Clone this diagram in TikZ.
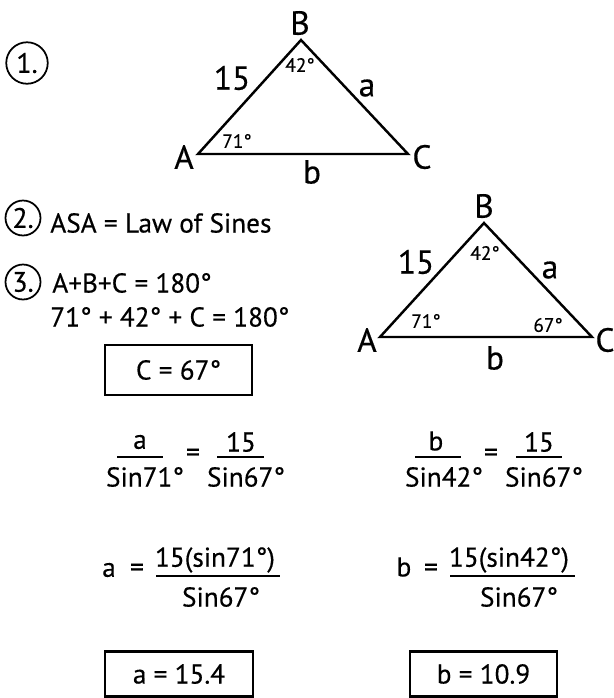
\documentclass[tikz,border=0pt]{standalone}
\usepackage{fontspec}
\setmainfont{PT Sans}[FakeBold=0.4]
\tikzset{
  side/.style={line width=1.4pt, line join=miter},
  vlabel/.style={font=\fontsize{19}{21}\selectfont, inner sep=0pt},
  anglelbl/.style={font=\fontsize{11}{13}\selectfont, inner sep=0pt},
  txt/.style={font=\fontsize{15.5}{17}\selectfont, inner sep=0pt},
  stepmark/.style={circle, draw, line width=1pt, inner sep=0pt, font=\fontsize{16}{18}\selectfont},
  answer/.style={draw, line width=1.4pt, inner sep=0pt, font=\fontsize{15.5}{17}\selectfont},
  bar/.style={line width=1.3pt}
}
\begin{document}
\begin{tikzpicture}[x=0.02cm, y=-0.02cm]
    \useasboundingbox (0,0) rectangle (614,698);

    % Step 1: the given triangle
    \node[stepmark, minimum size=0.83cm] (one) at (27,63) {1.};
    \coordinate (A1) at (198,154);
    \coordinate (B1) at (301,40);
    \coordinate (C1) at (408,154);
    \draw[side] (A1) -- (B1) -- (C1) -- cycle;
    \node[vlabel] (lA1) at (184,157) {A};
    \node[vlabel] (lB1) at (300,23) {B};
    \node[vlabel] (lC1) at (422,157) {C};
    \node[vlabel] (lc1) at (232,78) {15};
    \node[vlabel] (la1) at (367,88) {a};
    \node[vlabel] (lb1) at (312,172) {b};
    \node[anglelbl] (angB1) at (300,65) {42°};
    \node[anglelbl] (angA1) at (237,141) {71°};

    % Step 2 and 3
    \node[stepmark, minimum size=0.7cm] (two) at (23,218) {2.};
    \node[txt, anchor=west] (asa) at (50,223) {ASA = Law of Sines};
    \node[stepmark, minimum size=0.7cm] (three) at (23,282) {3.};
    \node[txt, anchor=west] (sum1) at (52,283) {A+B+C = 180°};
    \node[txt, anchor=west] (sum2) at (50,317) {71° + 42° + C = 180°};
    \node[answer, minimum width=2.94cm, minimum height=1cm] (boxC) at (178.5,370) {C = 67°};

    % Triangle with all angles
    \coordinate (A2) at (380,337);
    \coordinate (B2) at (484,223);
    \coordinate (C2) at (592,337);
    \draw[side] (A2) -- (B2) -- (C2) -- cycle;
    \node[vlabel] (lA2) at (367,340) {A};
    \node[vlabel] (lB2) at (484,206) {B};
    \node[vlabel] (lC2) at (605,340) {C};
    \node[vlabel] (lc2) at (416,262) {15};
    \node[vlabel] (la2) at (550,270) {a};
    \node[vlabel] (lb2) at (495,358) {b};
    \node[anglelbl] (angB2) at (485,253) {42°};
    \node[anglelbl] (angA2) at (426,321) {71°};
    \node[anglelbl] (angC2) at (548,325) {67°};

    % Law of sines, left
    \node[txt] (fa1) at (140,442) {a};
    \node[txt] (fa2) at (145,477) {Sin71°};
    \draw[bar] (117,457) -- (163,457);
    \node[txt] (eqa1) at (193,455) {=};
    \node[txt] (fa3) at (241,442) {15};
    \node[txt] (fa4) at (246,477) {Sin67°};
    \draw[bar] (217,457) -- (264,457);

    % Law of sines, right
    \node[txt] (fb1) at (436,441) {b};
    \node[txt] (fb2) at (444,477) {Sin42°};
    \draw[bar] (415,457) -- (461,457);
    \node[txt] (eqb1) at (491,455) {=};
    \node[txt] (fb3) at (539,442) {15};
    \node[txt] (fb4) at (544,477) {Sin67°};
    \draw[bar] (516,457) -- (562,457);

    % Solving for a and b
    \node[txt] (sa) at (109,570) {a};
    \node[txt] (eqa2) at (137,570) {=};
    \node[txt] (sa1) at (215,560) {15(sin71°)};
    \draw[bar] (156,576) -- (280,576);
    \node[txt] (sa2) at (221,597) {Sin67°};

    \node[txt] (sb) at (404,567) {b};
    \node[txt] (eqb2) at (431,570) {=};
    \node[txt] (sb1) at (509,560) {15(sin42°)};
    \draw[bar] (450,576) -- (575,576);
    \node[txt] (sb2) at (519,597) {Sin67°};

    % Answers
    \node[answer, minimum width=2.96cm, minimum height=0.9cm] (boxa) at (179,674) {a = 15.4};
    \node[answer, minimum width=2.94cm, minimum height=0.9cm] (boxb) at (483.5,674) {b = 10.9};
\end{tikzpicture}
\end{document}
